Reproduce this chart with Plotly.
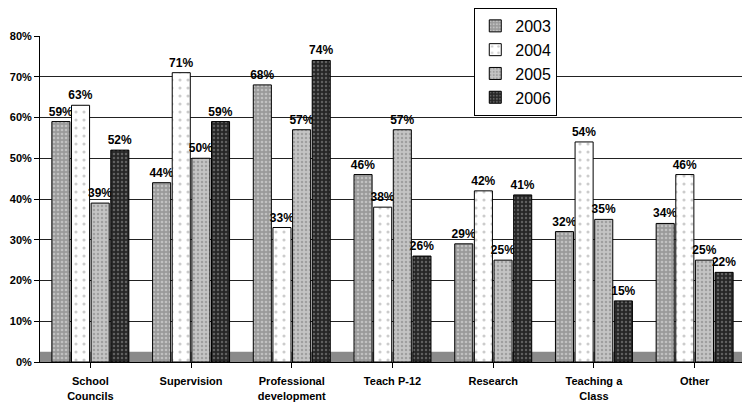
import plotly.graph_objects as go

categories = ["School<br>Councils", "Supervision", "Professional<br>development",
              "Teach P-12", "Research", "Teaching a<br>Class", "Other"]
years = ["2003", "2004", "2005", "2006"]
v2003 = [59, 44, 68, 46, 29, 32, 34]
v2004 = [63, 71, 33, 38, 42, 54, 46]
v2005 = [39, 50, 57, 57, 25, 35, 25]
v2006 = [52, 59, 74, 26, 41, 15, 22]
series = [v2003, v2004, v2005, v2006]
tick_vals = [0, 10, 20, 30, 40, 50, 60, 70, 80]
tick_text = ["0%", "10%", "20%", "30%", "40%", "50%", "60%", "70%", "80%"]

styles = [
    dict(bg="#9a9a9a", fg="#e8e8e8", shape=".", size=4, sol=0.35),
    dict(bg="#ffffff", fg="#999999", shape=".", size=8, sol=0.12),
    dict(bg="#c4c4c4", fg="#7a7a7a", shape=".", size=4, sol=0.3),
    dict(bg="#262626", fg="#9a9a9a", shape=".", size=4, sol=0.3),
]

fig = go.Figure()
for name, vals, st in zip(years, series, styles):
    fig.add_trace(go.Bar(
        name=name, x=categories, y=vals,
        text=[f"{v}%" for v in vals], textposition="outside",
        textfont=dict(family="Arial", size=12, color="black", weight="bold"),
        cliponaxis=False,
        marker=dict(color=st["bg"], line=dict(color="black", width=1),
                    pattern=dict(shape=st["shape"], fgcolor=st["fg"], bgcolor=st["bg"],
                                 size=st["size"], solidity=st["sol"])),
    ))

fig.update_layout(
    width=742, height=399,
    margin=dict(l=32, r=5, t=28, b=45, autoexpand=False),
    paper_bgcolor="white", plot_bgcolor="white",
    barmode="group", bargap=0.22, bargroupgap=0.08,
    font=dict(family="Arial", color="black"),
    uniformtext=dict(minsize=11, mode="show"),
    legend=dict(x=0.616, xanchor="left", y=1.086, yanchor="top",
                bordercolor="black", borderwidth=1, bgcolor="white",
                font=dict(family="Arial", size=16), itemwidth=30,
                tracegroupgap=2),
    xaxis=dict(showline=True, linecolor="black", ticks="outside", ticklen=5,
               tickcolor="black", ticklabelstandoff=4,
               tickfont=dict(family="Arial", size=11, weight="bold"),
               showgrid=False),
    yaxis=dict(range=[0, 80], tickvals=tick_vals, ticktext=tick_text,
               showline=True, linecolor="black", ticks="outside", ticklen=5,
               tickcolor="black", showgrid=True, gridcolor="#222222", gridwidth=1,
               tickfont=dict(family="Arial", size=11, weight="bold"), zeroline=False),
)
fig.add_shape(type="rect", xref="paper", yref="y", x0=0, x1=1, y0=0, y1=2.5,
              fillcolor="#8a8a8a", line=dict(width=0), layer="below")
fig.write_html("out.html")
